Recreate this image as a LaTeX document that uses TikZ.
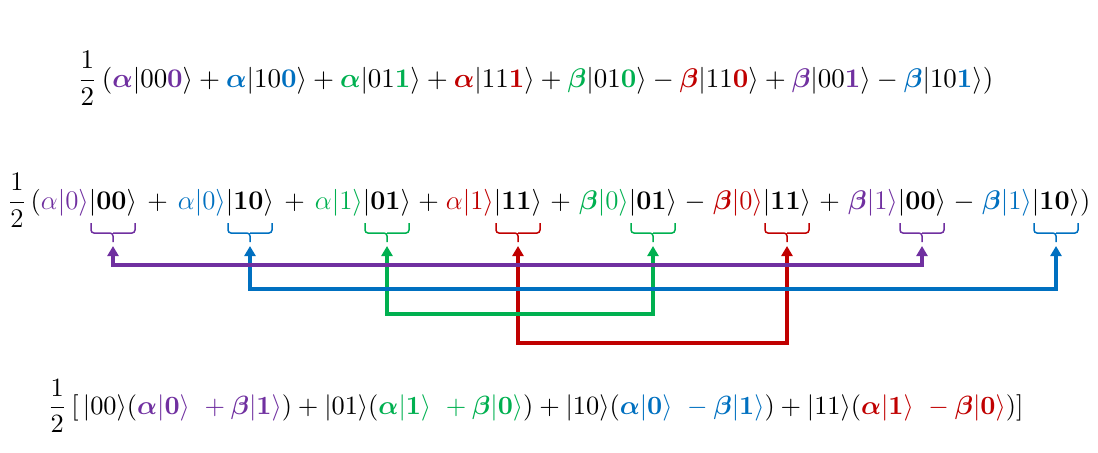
\documentclass[tikz,border=0pt]{standalone}
\usepackage{amsmath}
\usepackage{graphicx}
\usetikzlibrary{arrows.meta,calc}
\definecolor{cpur}{HTML}{7030A0}
\definecolor{cblu}{HTML}{0070C0}
\definecolor{cgrn}{HTML}{00B050}
\definecolor{cred}{HTML}{C00000}
\newcommand\myA{\boldsymbol{\alpha}}
\newcommand\myB{\boldsymbol{\beta}}
\newcommand\myS[1]{\scalebox{1.12}{#1}}
\begin{document}
\begin{tikzpicture}[x=0.5pt,y=-0.5pt,
  txt/.style={inner sep=0pt, outer sep=0pt, font=\large},
  ket/.style={txt, anchor=base},
  coef/.style={txt, anchor=base east},
  op/.style={txt, anchor=base},
  bracestyle/.style={line width=0.75pt, rounded corners=1.5pt},
  link/.style={line width=2pt, {Triangle[length=5pt,width=5.5pt]}-{Triangle[length=5pt,width=5.5pt]}}]
\useasboundingbox (0,0) rectangle (1098,452);

% line 1
\node[anchor=base west, inner sep=0pt] (l1) at (77,87) {\resizebox{458pt}{!}{$\dfrac{1}{2}\,(\textcolor{cpur}{\myA}|00\textcolor{cpur}{\mathbf{0}}\rangle + \textcolor{cblu}{\myA}|10\textcolor{cblu}{\mathbf{0}}\rangle + \textcolor{cgrn}{\myA}|01\textcolor{cgrn}{\mathbf{1}}\rangle + \textcolor{cred}{\myA}|11\textcolor{cred}{\mathbf{1}}\rangle + \textcolor{cgrn}{\myB}|01\textcolor{cgrn}{\mathbf{0}}\rangle - \textcolor{cred}{\myB}|11\textcolor{cred}{\mathbf{0}}\rangle + \textcolor{cpur}{\myB}|00\textcolor{cpur}{\mathbf{1}}\rangle - \textcolor{cblu}{\myB}|10\textcolor{cblu}{\mathbf{1}}\rangle)$}};

% line 2: kets
\node[ket] (k1) at (113,209) {\myS{$|\mathbf{00}\rangle$}};
\node[ket] (k2) at (250,209) {\myS{$|\mathbf{10}\rangle$}};
\node[ket] (k3) at (387,209) {\myS{$|\mathbf{01}\rangle$}};
\node[ket] (k4) at (518,209) {\myS{$|\mathbf{11}\rangle$}};
\node[ket] (k5) at (653,209) {\myS{$|\mathbf{01}\rangle$}};
\node[ket] (k6) at (787,209) {\myS{$|\mathbf{11}\rangle$}};
\node[ket] (k7) at (922,209) {\myS{$|\mathbf{00}\rangle$}};
\node[ket] (k8) at (1056,209) {\myS{$|\mathbf{10}\rangle$}};
% coefficients
\node[coef, text=cpur] (c1) at (k1.base west) {\myS{$\alpha|0\rangle$}};
\node[coef, text=cblu] (c2) at (k2.base west) {\myS{$\alpha|0\rangle$}};
\node[coef, text=cgrn] (c3) at (k3.base west) {\myS{$\alpha|1\rangle$}};
\node[coef, text=cred] (c4) at (k4.base west) {\myS{$\alpha|1\rangle$}};
\node[coef, text=cgrn] (c5) at (k5.base west) {\myS{$\myB|0\rangle$}};
\node[coef, text=cred] (c6) at (k6.base west) {\myS{$\myB|0\rangle$}};
\node[coef, text=cpur] (c7) at (k7.base west) {\myS{$\myB|1\rangle$}};
\node[coef, text=cblu] (c8) at (k8.base west) {\myS{$\myB|1\rangle$}};
% operators
\node[op] (o2) at ($(k1.base east)!0.5!(c2.base west)$) {\myS{$+$}};
\node[op] (o3) at ($(k2.base east)!0.5!(c3.base west)$) {\myS{$+$}};
\node[op] (o4) at ($(k3.base east)!0.5!(c4.base west)$) {\myS{$+$}};
\node[op] (o5) at ($(k4.base east)!0.5!(c5.base west)$) {\myS{$+$}};
\node[op] (o6) at ($(k5.base east)!0.5!(c6.base west)$) {\myS{$-$}};
\node[op] (o7) at ($(k6.base east)!0.5!(c7.base west)$) {\myS{$+$}};
\node[op] (o8) at ($(k7.base east)!0.5!(c8.base west)$) {\myS{$-$}};
\node[coef] (f2) at (c1.base west) {\myS{$\dfrac{1}{2}\,($}};
\node[txt, anchor=base west] (e2) at (k8.base east) {\myS{$)$}};

% brace levels
\coordinate (bT) at (0,223);
\coordinate (bM) at (0,233);
\coordinate (bP) at (0,242);
\coordinate (aT) at (0,246);
\coordinate (hP) at (0,265);
\coordinate (hB) at (0,289);
\coordinate (hG) at (0,314);
\coordinate (hR) at (0,343);

\foreach \k/\c in {k1/cpur,k2/cblu,k3/cgrn,k4/cred,k5/cgrn,k6/cred,k7/cpur,k8/cblu}{
  \draw[bracestyle, \c] ($(\k |- bT)+(-22,0)$) |- (\k |- bM) -- (\k |- bP);
  \draw[bracestyle, \c] ($(\k |- bT)+(22,0)$) |- (\k |- bM);
}

% connectors
\draw[link, cred] (k4 |- aT) -- (k4 |- hR) -| (k6 |- aT);
\draw[link, cgrn] (k3 |- aT) -- (k3 |- hG) -| (k5 |- aT);
\draw[link, cblu] (k2 |- aT) -- (k2 |- hB) -| (k8 |- aT);
\draw[link, cpur] (k1 |- aT) -- (k1 |- hP) -| (k7 |- aT);

% line 3
\node[anchor=base west, inner sep=0pt] (l3) at (47,414) {\resizebox{488pt}{!}{$\dfrac{1}{2}\,[\,|00\rangle(\textcolor{cpur}{\myA|\mathbf{0}\rangle\ +\myB|\mathbf{1}\rangle}) + |01\rangle(\textcolor{cgrn}{\myA|\mathbf{1}\rangle\ +\myB|\mathbf{0}\rangle}) + |10\rangle(\textcolor{cblu}{\myA|\mathbf{0}\rangle\ -\myB|\mathbf{1}\rangle}) + |11\rangle(\textcolor{cred}{\myA|\mathbf{1}\rangle\ -\myB|\mathbf{0}\rangle})]$}};
\end{tikzpicture}
\end{document}
